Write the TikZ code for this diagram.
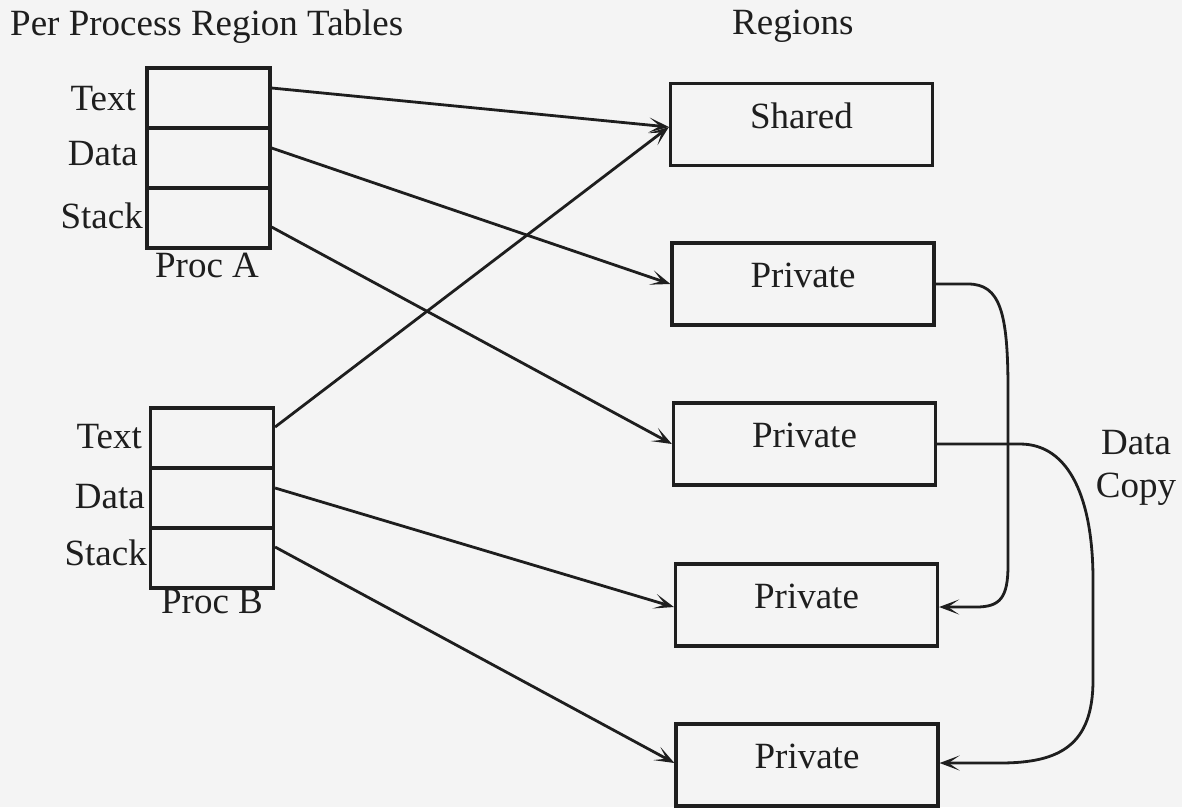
\documentclass[tikz,border=0pt]{standalone}
\usepackage{fontspec}
\setmainfont{Liberation Serif}
\usetikzlibrary{arrows.meta}
\definecolor{ink}{HTML}{1E1E1E}
\definecolor{paper}{HTML}{F4F4F4}
\begin{document}
\begin{tikzpicture}[x=1pt,y=-1pt,
  every node/.style={font=\fontsize{37}{43}\selectfont, text=ink},
  lbl/.style={inner sep=0pt},
  rowbox/.style={draw=ink, line width=3.2pt, minimum width=123pt, minimum height=60pt, inner sep=0pt},
  regbox/.style={draw=ink, line width=3.2pt, minimum width=262pt, minimum height=82pt, inner sep=0pt,
                 text height=24pt, text depth=17pt},
  conn/.style={draw=ink, line width=2.8pt, -{Stealth[length=20pt,width=15pt,inset=11pt]}}
]
\fill[paper] (0,0) rectangle (1182,807);
\useasboundingbox (0,0) rectangle (1182,807);

% headings
\node[lbl, anchor=base west] (title) at (10,35) {Per Process Region Tables};
\node[lbl, anchor=base west] (regions) at (732,34) {Regions};

% Process A table
\node[rowbox] (aT) at (208.5,98) {};
\node[rowbox] (aD) at (208.5,158) {};
\node[rowbox] (aS) at (208.5,218) {};
\node[lbl, anchor=base east] (aTl) at (136,110) {Text};
\node[lbl, anchor=base east] (aDl) at (138,165) {Data};
\node[lbl, anchor=base east] (aSl) at (143,228) {Stack};
\node[lbl, anchor=base] (procA) at (207,277) {Proc A};

% Process B table
\node[rowbox] (bT) at (212,438) {};
\node[rowbox] (bD) at (212,498) {};
\node[rowbox] (bS) at (212,558) {};
\node[lbl, anchor=base east] (bTl) at (142,448) {Text};
\node[lbl, anchor=base east] (bDl) at (145,508) {Data};
\node[lbl, anchor=base east] (bSl) at (147,565) {Stack};
\node[lbl, anchor=base] (procB) at (212,613) {Proc B};

% Regions
\node[regbox] (sh) at (801.5,124.5) {Shared};
\node[regbox] (p1) at (803,284) {Private};
\node[regbox] (p2) at (804.5,444) {Private};
\node[regbox] (p3) at (806.5,605) {Private};
\node[regbox] (p4) at (807,765) {Private};

% Data Copy label
\node[lbl, align=center] (dc) at (1136,468) {Data\\Copy};

% connectors from tables to regions
\draw[conn] ([yshift=10pt]aT.east) -- ([yshift=-2.5pt]sh.west);
\draw[conn] ([yshift=10pt]aD.east) -- (p1.west);
\draw[conn] ([yshift=-9pt]aS.east) -- (p2.west);
\draw[conn] ([yshift=11pt]bT.east) -- ([yshift=-2.5pt]sh.west);
\draw[conn] ([yshift=10pt]bD.east) -- ([yshift=-2pt]p3.west);
\draw[conn] ([yshift=11pt]bS.east) -- ([yshift=2pt]p4.west);

% data copy curves
\draw[conn] (p1.east) -- (968,284) .. controls (1000,284) and (1008,312) .. (1008,390)
  -- (1008,565) .. controls (1008,598) and (1000,607) .. (976,607) -- ([yshift=-2pt]p3.east);
\draw[conn] (p2.east) -- (1020,444) .. controls (1070,444) and (1093,500) .. (1093,580)
  -- (1093,680) .. controls (1093,745) and (1060,763) .. (1000,763) -- ([yshift=2pt]p4.east);
\end{tikzpicture}
\end{document}
